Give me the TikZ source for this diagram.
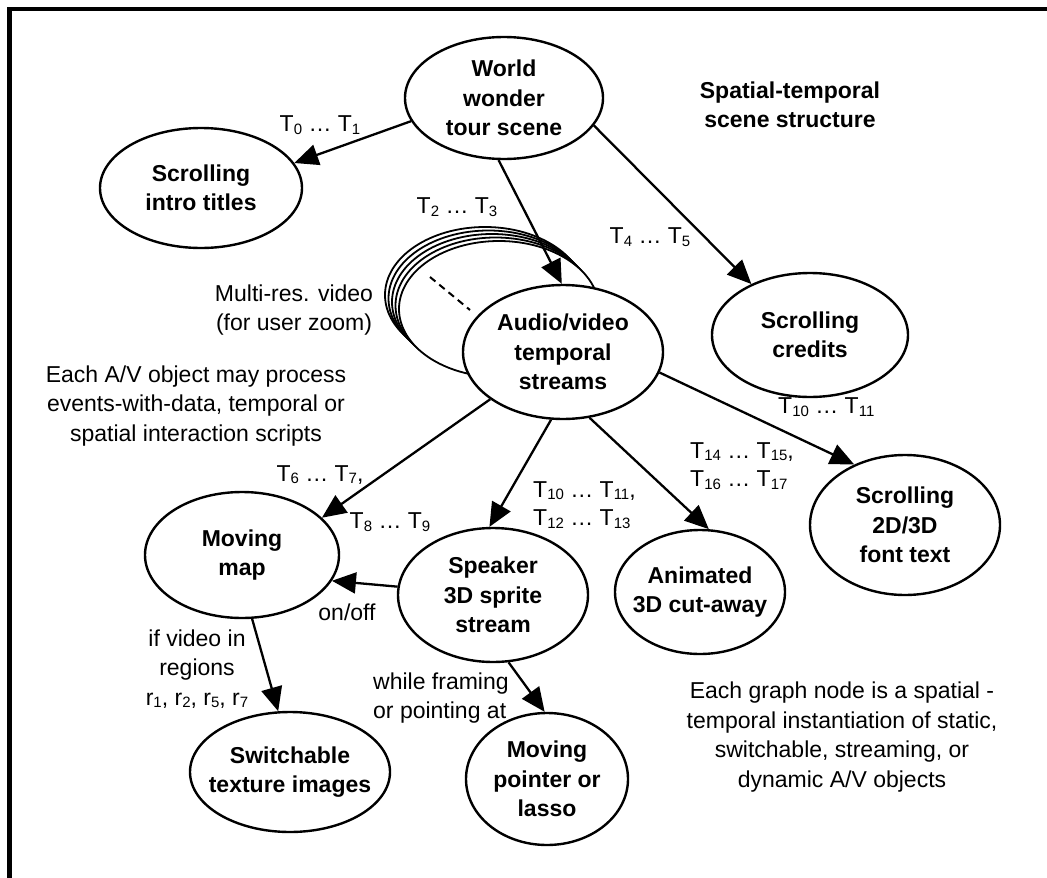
\documentclass[tikz,border=0pt]{standalone}
\usepackage{fontspec}
\setmainfont{Liberation Sans}
\usetikzlibrary{arrows.meta,shapes.geometric}

% time index with a small lowered subscript, e.g. T_0
\newcommand\Tn[1]{T\raisebox{-2.5pt}{\fontsize{15}{15}\selectfont #1}}
\newcommand\rn[1]{r\raisebox{-2.5pt}{\fontsize{15}{15}\selectfont #1}}

\tikzset{
  scene/.style={ellipse, draw, line width=2.4pt, fill=white, inner sep=0pt},
  scenetext/.style={align=center, inner sep=0pt,
    font=\fontsize{23}{29.5}\selectfont\bfseries},
  note/.style={align=center, inner sep=0pt, font=\fontsize{23}{29.5}\selectfont},
  tlabel/.style={align=left, inner sep=0pt, font=\fontsize{23}{28.5}\selectfont},
  link/.style={line width=2.3pt, -{Triangle[length=24pt,width=21pt]}},
  stackline/.style={line width=1.8pt, fill=white},
}

\begin{document}
\begin{tikzpicture}[x=1pt, y=-1pt]
\useasboundingbox (0,0) rectangle (1047,878);

% outer frame (only its top and left sides fall inside the page)
\draw[line width=4.3pt] (9.5,890) -- (9.5,8.8) -- (1060,8.8);

% stack of video layers behind the audio/video node
\foreach \k in {0,...,4}
  \draw[stackline] ({485+3.5*\k},{295+3.5*\k}) ellipse [x radius=100pt, y radius=68pt];
\draw[line width=2pt, dash pattern=on 7pt off 5pt] (430,277) -- (470,310);

% scene graph nodes
\node[scene, minimum width=198pt, minimum height=122pt] (world) at (504,98) {};
\node[scenetext] (world-t) at (world.center) {World\\wonder\\tour scene};

\node[scene, minimum width=202pt, minimum height=120pt] (intro) at (201,188) {};
\node[scenetext] (intro-t) at (intro.center) {Scrolling\\intro titles};

\node[scene, minimum width=196pt, minimum height=124pt] (credits) at (810,335) {};
\node[scenetext] (credits-t) at (credits.center) {Scrolling\\credits};

\node[scene, minimum width=200pt, minimum height=134pt] (av) at (563,352) {};
\node[scenetext] (av-t) at (av.center) {Audio/video\\temporal\\streams};

\node[scene, minimum width=190pt, minimum height=140pt] (fonttext) at (905,525) {};
\node[scenetext] (fonttext-t) at (fonttext.center) {Scrolling\\2D/3D\\font text};

\node[scene, minimum width=194pt, minimum height=126pt] (map) at (242,555) {};
\node[scenetext] (map-t) at (map.center) {Moving\\map};

\node[scene, minimum width=190pt, minimum height=134pt] (speaker) at (493,595) {};
\node[scenetext] (speaker-t) at (speaker.center) {Speaker\\3D sprite\\stream};

\node[scene, minimum width=170pt, minimum height=124pt] (cutaway) at (700,592) {};
\node[scenetext] (cutaway-t) at (cutaway.center) {Animated\\3D cut-away};

\node[scene, minimum width=200pt, minimum height=120pt] (switch) at (290,772) {};
\node[scenetext] (switch-t) at (switch.center) {Switchable\\texture images};

\node[scene, minimum width=162pt, minimum height=132pt] (pointer) at (547,779) {};
\node[scenetext] (pointer-t) at (pointer.center) {Moving\\pointer or\\lasso};

% connectors
\draw[link] (world.194) -- (intro.15);
\draw[link] (world.265) -- (av.91);
\draw[link] (world.-17) -- (credits.139);
\draw[link] (av.-12) -- (fonttext.130);
\draw[link] (av.213) -- (map.25);
\draw[link] (av.260) -- (speaker.93);
\draw[link] (av.-68) -- (cutaway.82);
\draw[link] (speaker.175) -- (map.-16);
\draw[link] (map.-81) -- (switch.101);
\draw[link] (speaker.-77) -- (pointer.92);

% time interval labels
\node[tlabel] (l01) at (320,125) {\Tn0 … \Tn1};
\node[tlabel] (l23) at (457,207) {\Tn2 … \Tn3};
\node[tlabel] (l45) at (650,237) {\Tn4 … \Tn5};
\node[tlabel, anchor=west] (l1011) at (778,407) {\Tn{10} … \Tn{11}};
\node[tlabel] (l67) at (320,475) {\Tn6 … \Tn7,};
\node[tlabel] (l89) at (390,522) {\Tn8 … \Tn9};
\node[tlabel, anchor=west] (l1013) at (533,505) {\Tn{10} … \Tn{11},\\\Tn{12} … \Tn{13}};
\node[tlabel, anchor=west] (l1417) at (690,466) {\Tn{14} … \Tn{15},\\\Tn{16} … \Tn{17}};

% annotations
\node[note, font=\fontsize{23}{29.5}\selectfont\bfseries] (title) at (790,105) {Spatial-temporal\\scene structure};
\node[note] (multires) at (294,310) {Multi-res. video\\(for user zoom)};
\node[note] (avnote) at (196,406) {Each A/V object may process\\events-with-data, temporal or\\spatial interaction scripts};
\node[note] (onoff) at (347,612) {on/off};
\node[note] (regions) at (197,669) {if video in\\regions\\\rn1, \rn2, \rn5, \rn7};
\node[note, align=left, anchor=west] (framing) at (373,698) {while framing\\or pointing at};
\node[note] (graphnote) at (842,737) {Each graph node is a spatial -\\temporal instantiation of static,\\switchable, streaming, or\\dynamic A/V objects};
\end{tikzpicture}
\end{document}
